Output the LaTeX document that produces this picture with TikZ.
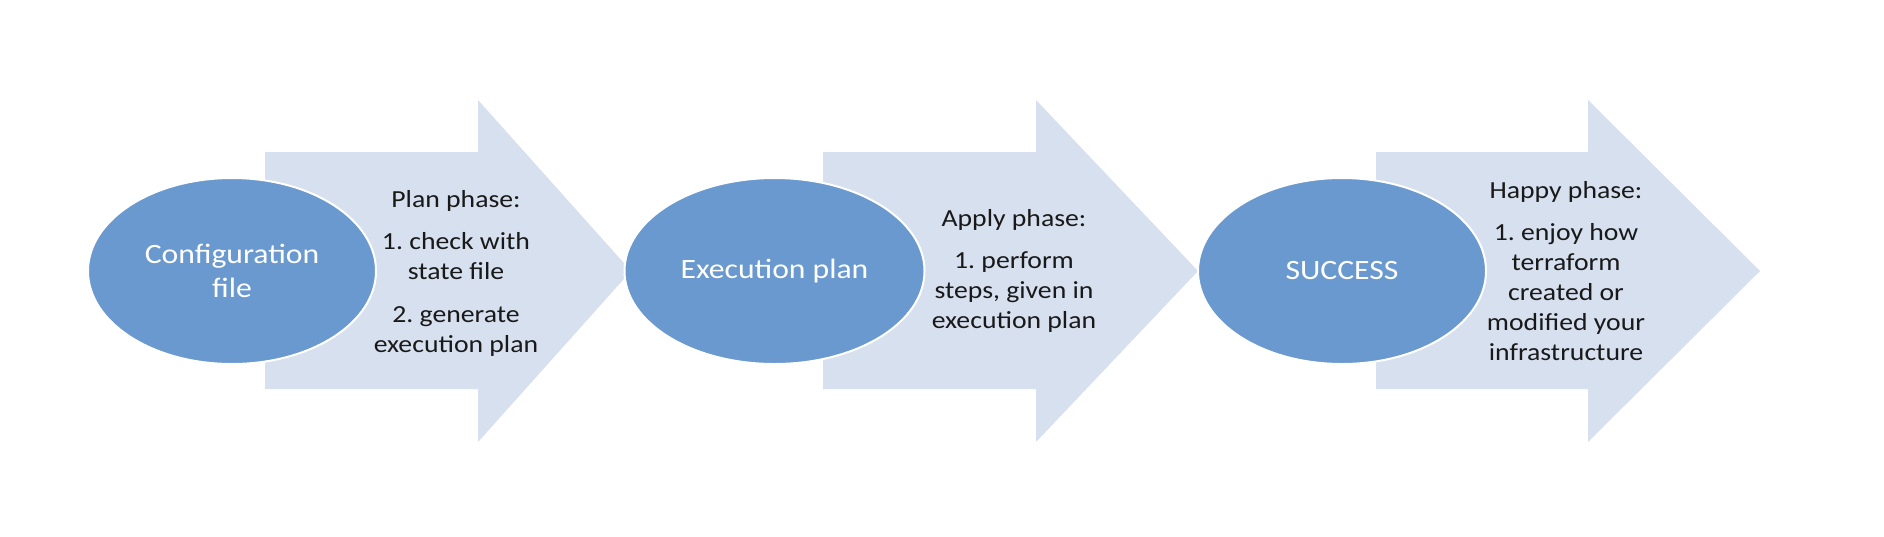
\documentclass[tikz,border=0pt]{standalone}
\usepackage{fontspec}
\setmainfont[FakeStretch=1.13]{Carlito}
\usetikzlibrary{shapes.geometric}
\definecolor{ellfill}{RGB}{106,153,207}
\definecolor{arrfill}{RGB}{215,224,239}
\tikzset{
  phasearrow/.style={fill=arrfill, draw=none},
  stage/.style={ellipse, fill=ellfill, draw=white, line width=1.5pt, inner sep=0pt,
    minimum height=139.5pt, text=white, align=center,
    font=\fontsize{21pt}{25.5pt}\selectfont},
  phasetext/.style={align=center, text=black!90, inner sep=0pt,
    font=\fontsize{18.4pt}{22.5pt}\selectfont}
}
\frenchspacing
\begin{document}
\begin{tikzpicture}[x=0.75pt,y=-0.75pt]
\path[use as bounding box, fill=white] (0,0) rectangle (1884,536);
% arrows
\path[phasearrow] (265,152) -- (478,152) -- (478,100) -- (631,271) -- (478,442) -- (478,389) -- (265,389) -- cycle;
\path[phasearrow] (823,152) -- (1036,152) -- (1036,100) -- (1198,271) -- (1036,442) -- (1036,389) -- (823,389) -- cycle;
\path[phasearrow] (1376,152) -- (1588,152) -- (1588,100) -- (1760,271) -- (1588,442) -- (1588,389) -- (1376,389) -- cycle;
% stages
\node[stage, minimum width=216pt] (cfg) at (232,271) {Configuration\\file};
\node[stage, minimum width=225pt] (exe) at (774.5,271) {Execution plan};
\node[stage, minimum width=216pt] (suc) at (1342,271) {SUCCESS};
% phase texts
\node[phasetext] (plan) at (456,273) {\frenchspacing Plan phase:\\[9.4pt]1. check with\\state file\\[9.4pt]2. generate\\execution plan};
\node[phasetext] (apply) at (1014,271) {\frenchspacing Apply phase:\\[9.4pt]1. perform\\steps, given in\\execution plan};
\node[phasetext] (happy) at (1566,271) {\frenchspacing Happy phase:\\[9.4pt]1. enjoy how\\terraform\\created or\\modified your\\infrastructure};
\end{tikzpicture}
\end{document}
